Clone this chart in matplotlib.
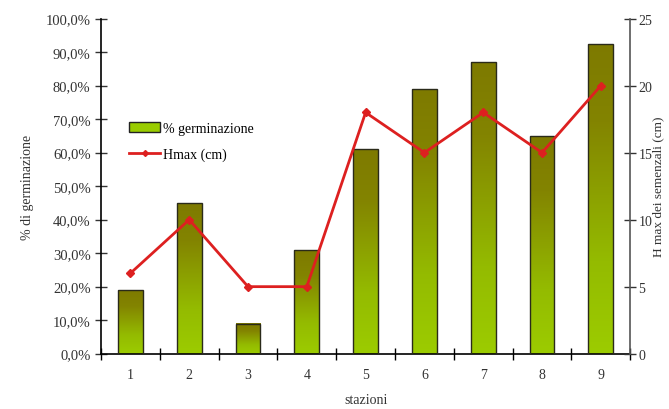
import numpy as np
import matplotlib
matplotlib.use("Agg")
import matplotlib.pyplot as plt
from matplotlib.colors import LinearSegmentedColormap
from matplotlib.patches import Patch
from matplotlib.lines import Line2D
from matplotlib.ticker import FuncFormatter

plt.rcParams['font.family'] = ['Liberation Serif', 'DejaVu Serif']

stazioni = [1, 2, 3, 4, 5, 6, 7, 8, 9]
germinazione = [0.19, 0.45, 0.09, 0.31, 0.61, 0.79, 0.87, 0.65, 0.925]
hmax = [6, 10, 5, 5, 18, 15, 18, 15, 20]

# sfumatura delle barre: verde chiaro in basso, oliva in alto
sfumatura = LinearSegmentedColormap.from_list(
    "oliva", [(0.0, "#9ccc00"), (0.3, "#94bb00"), (0.75, "#838400"), (1.0, "#7e7a00")])

fig = plt.figure(figsize=(6.69, 4.10), dpi=100)
ax = fig.add_axes([0.151, 0.135, 0.791, 0.817])

larghezza = 0.42
grad = np.linspace(0, 1, 256).reshape(-1, 1)
for x, h in zip(stazioni, germinazione):
    ax.imshow(grad, cmap=sfumatura, origin="lower", aspect="auto",
              extent=[x - larghezza / 2, x + larghezza / 2, 0, h], zorder=2)
    ax.bar(x, h, width=larghezza, facecolor="none", edgecolor="#2a2a1a",
           linewidth=1.0, zorder=3)

ax.set_xlim(0.5, 9.5)
ax.set_ylim(0, 1.0)
ax.set_yticks(np.arange(0, 1.01, 0.1))
ax.yaxis.set_major_formatter(FuncFormatter(lambda v, p: f"{v * 100:.1f}%".replace(".", ",")))
ax.set_xticks(stazioni)
ax.set_xticks(np.arange(0.5, 9.6, 1), minor=True)
ax.tick_params(axis="x", which="major", length=0, labelsize=10, pad=10, colors="#333333")
ax.tick_params(axis="x", which="minor", length=8, direction="inout", width=1)
ax.tick_params(axis="y", length=8, direction="inout", labelsize=10.5, width=1, colors="#333333")
ax.spines["top"].set_visible(False)
ax.spines["right"].set_visible(False)
for s in ["left", "bottom"]:
    ax.spines[s].set_linewidth(1.2)
ax.set_ylabel("% di germinazione", fontsize=10, color="#333333", labelpad=8)
ax.set_xlabel("stazioni", fontsize=10, color="#333333", labelpad=9)

ax2 = ax.twinx()
ax2.plot(stazioni, hmax, color="#dd2020", linewidth=2, marker="D", markersize=4,
         zorder=5)
ax2.set_ylim(0, 25)
ax2.set_yticks(range(0, 26, 5))
ax2.tick_params(axis="y", length=8, direction="inout", labelsize=10, width=1,
                colors="#333333", pad=2)
ax2.spines["top"].set_visible(False)
ax2.spines["left"].set_visible(False)
ax2.spines["bottom"].set_visible(False)
ax2.spines["right"].set_color("#555555")
ax2.spines["right"].set_linewidth(1.2)
ax2.set_ylabel("H max dei semenzali (cm)", fontsize=9.5, color="#333333", labelpad=0)

maniglie = [Patch(facecolor="#99cc00", edgecolor="#222222", linewidth=1),
            Line2D([0], [0], color="#dd2020", linewidth=2, marker="D", markersize=3)]
ax.legend(maniglie, ["% germinazione", "Hmax (cm)"], loc="upper left",
          bbox_to_anchor=(0.03, 0.73), frameon=False, fontsize=10,
          handlelength=2.2, handletextpad=0.2, labelspacing=0.9)

fig.savefig("out.png", dpi=100)
